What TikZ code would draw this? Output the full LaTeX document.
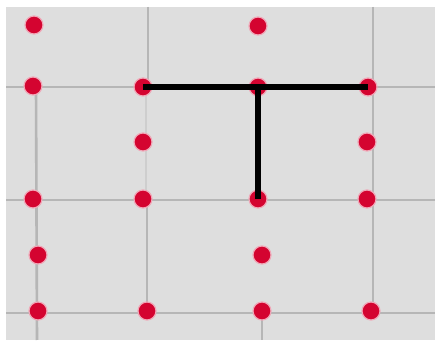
\documentclass[tikz,border=0pt]{standalone}
\usetikzlibrary{backgrounds}
\definecolor{tile}{RGB}{222,222,222}
\definecolor{joint}{RGB}{182,182,182}
\definecolor{dotred}{RGB}{212,4,48}
\begin{document}
\begin{tikzpicture}[x=1pt,y=-1pt,
  dotnode/.style={circle,fill=dotred,draw=dotred!35,line width=1.2pt,minimum size=18pt,inner sep=0pt},
  jointline/.style={draw=joint,line width=2.6pt},
  tline/.style={draw=black,line width=6pt}]
\useasboundingbox (0,0) rectangle (437,347);
\fill[white] (0,0) rectangle (437,347);
\fill[tile] (6,7) rectangle (435,340);
% tile joints
\draw[jointline] (6,87) -- (435,87);
\draw[jointline] (6,200) -- (435,200);
\draw[jointline] (6,313) -- (435,313);
\draw[jointline] (148,7) -- (148,87);
\draw[jointline,draw=joint!40!tile] (146,87) -- (146,200);
\draw[jointline] (147,200) -- (147,313);
\draw[jointline] (36,87) -- (37,340);
\draw[jointline] (373,7) -- (373,313);
\draw[jointline] (262,313) -- (262,340);
% dots
\node[dotnode] (a1) at (34,25) {};
\node[dotnode] (c1) at (258,26) {};
\node[dotnode] (a2) at (33,86) {};
\node[dotnode] (b2) at (143,87) {};
\node[dotnode] (c2) at (258,87) {};
\node[dotnode] (d2) at (368,87) {};
\node[dotnode] (b3) at (143,142) {};
\node[dotnode] (d3) at (367,142) {};
\node[dotnode] (a4) at (33,199) {};
\node[dotnode] (b4) at (143,199) {};
\node[dotnode] (c4) at (258,199) {};
\node[dotnode] (d4) at (367,199) {};
\node[dotnode] (a5) at (38,255) {};
\node[dotnode] (c5) at (262,255) {};
\node[dotnode] (a6) at (38,311) {};
\node[dotnode] (b6) at (147,311) {};
\node[dotnode] (c6) at (262,311) {};
\node[dotnode] (d6) at (371,311) {};
% T shape
\draw[tline] (b2.center) -- (d2.center);
\draw[tline,line width=5.5pt] (c2.center) -- (c4.center);
\end{tikzpicture}
\end{document}
